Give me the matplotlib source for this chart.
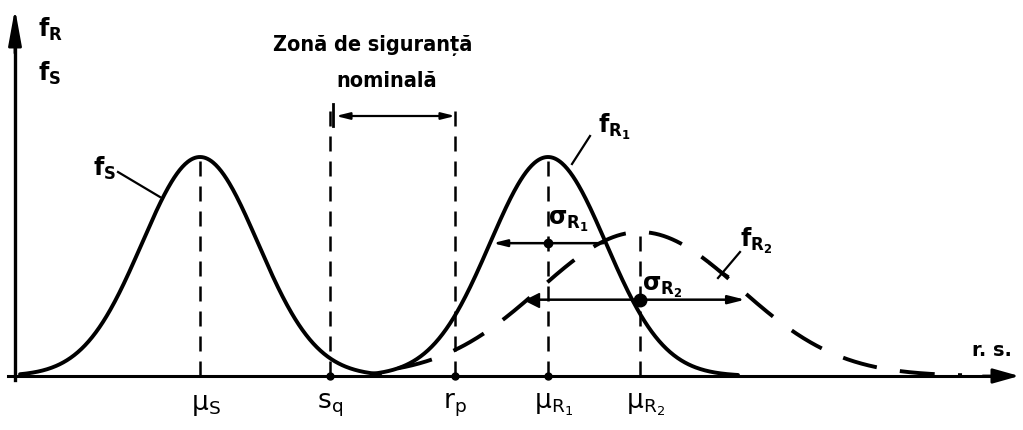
import numpy as np
import matplotlib
matplotlib.use('Agg')
import matplotlib.pyplot as plt

plt.rcParams['font.family'] = ['DejaVu Sans']
plt.rcParams['mathtext.default'] = 'regular'

# Distribution parameters (horizontal units along r.s., heights above the axis)
names = ['S', 'R1', 'R2']
means = [200, 548, 640]
sigmas = [58, 58, 100]
peaks = [219, 219, 144]
spans = [(20, 380), (372, 738), (398, 962)]

# Marked points on the r.s. axis
s_q = 330
r_p = 455
zone_top = 275

def curve(mu, sig, peak, a, b):
    x = np.linspace(a, b, 400)
    return x, peak * np.exp(-0.5 * ((x - mu) / sig) ** 2)

fig = plt.figure(figsize=(10.23, 4.31), dpi=100)
ax = fig.add_axes([0, 0, 1, 1])
ax.set_xlim(0, 1023)
ax.set_ylim(-54, 377)
ax.axis('off')

lw = 2.8
# axes with arrows
ax.plot([8, 1000], [0, 0], color='black', lw=2.2)
ax.annotate('', xy=(1022, 0), xytext=(980, 0),
            arrowprops=dict(arrowstyle='-|>,head_length=1.6,head_width=0.45', color='black', lw=2))
ax.plot([15, 15], [-4, 330], color='black', lw=2.4)
ax.annotate('', xy=(15, 370), xytext=(15, 320),
            arrowprops=dict(arrowstyle='-|>,head_length=2.2,head_width=0.4', color='black', lw=2))

# f_S and f_R1 solid, f_R2 dashed
for i in range(3):
    x, y = curve(means[i], sigmas[i], peaks[i], *spans[i])
    if names[i] == 'R2':
        ax.plot(x, y, color='black', lw=lw, dashes=(9, 6))
    else:
        ax.plot(x, y, color='black', lw=lw, solid_capstyle='round')

dash = dict(color='black', lw=1.8, dashes=(6, 4))
# vertical lines at the means
for i in range(3):
    ax.plot([means[i], means[i]], [0, peaks[i]], **dash)
# safety zone limits
ax.plot([s_q, s_q], [0, zone_top], **dash)
ax.plot([r_p, r_p], [0, zone_top], **dash)
ax.plot([s_q + 3, s_q + 3], [250, 272], color='black', lw=2)
ax.annotate('', xy=(s_q + 3, 260), xytext=(r_p + 3, 260),
            arrowprops=dict(arrowstyle='<|-|>,head_length=0.8,head_width=0.2', color='black', lw=1.6))

# sigma spans
y1 = peaks[1] * np.exp(-0.5)
ax.annotate('', xy=(means[1] - sigmas[1], y1), xytext=(means[1] + sigmas[1], y1),
            arrowprops=dict(arrowstyle='-|>,head_length=0.8,head_width=0.2', color='black', lw=1.8))
ax.plot(means[1], y1, 'o', color='black', ms=6)
y2 = peaks[2] * 0.53
ax.annotate('', xy=(means[2] + 1.08 * sigmas[2], y2), xytext=(means[2] - 1.05 * sigmas[2], y2),
            arrowprops=dict(arrowstyle='-|>,head_length=1.0,head_width=0.25', color='black', lw=1.8))
ax.plot(means[2] - 1.08 * sigmas[2], y2, marker='<', color='black', ms=10)
ax.plot(means[2], y2, 'o', color='black', ms=9)

# small marks on the axis
for xm in [s_q, r_p, means[1]]:
    ax.plot(xm, 0, 'o', color='black', ms=5)

# leader lines
ax.plot([118, 160], [204, 179], color='black', lw=1.6)
ax.plot([572, 590], [212, 240], color='black', lw=1.6)
ax.plot([718, 740], [98, 124], color='black', lw=1.6)
ax.plot([710, 728], [112, 100], color='black', lw=1.6)

fs = 17
txt = dict(color='black', fontsize=fs, fontweight='bold')
ax.text(38, 348, '$f_R$', ha='left', va='center', **txt)
ax.text(38, 304, '$f_S$', ha='left', va='center', **txt)
ax.text(93, 209, '$f_S$', ha='left', va='center', **txt)
ax.text(598, 250, '$f_{R_1}$', ha='left', va='center', **txt)
ax.text(740, 136, '$f_{R_2}$', ha='left', va='center', **txt)
ax.text(548, 156, r'$\sigma_{R_1}$', ha='left', va='center', **txt)
ax.text(642, 90, r'$\sigma_{R_2}$', ha='left', va='center', **txt)

title = dict(color='black', fontsize=15.5, fontweight='bold', fontstretch='condensed')
ax.text(373, 331, 'Zonă de siguranță', ha='center', va='center', **title)
ax.text(387, 296, 'nominală', ha='center', va='center', **title)
ax.text(992, 26, 'r. s.', ha='center', va='center', color='black', fontsize=14, fontweight='bold')

lab = dict(color='black', fontsize=19, va='center', ha='center')
ax.text(means[0] + 6, -28, r'$\mu_S$', **lab)
ax.text(s_q, -28, '$s_q$', **lab)
ax.text(r_p, -28, '$r_p$', **lab)
ax.text(means[1] + 6, -28, r'$\mu_{R_1}$', **lab)
ax.text(means[2] + 6, -28, r'$\mu_{R_2}$', **lab)

fig.savefig('out.png', dpi=100, facecolor='white')
